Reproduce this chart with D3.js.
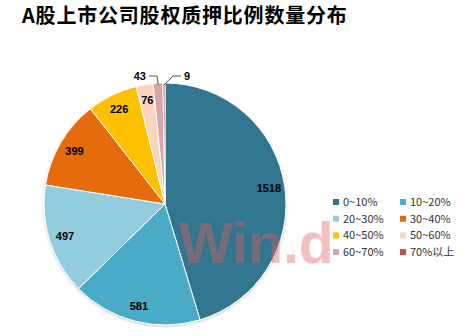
<!DOCTYPE html>
<html>
<head>
<meta charset="utf-8">
<script src="https://cdn.jsdelivr.net/npm/d3@7"></script>
<style>
  body { margin: 0; background: #fff; }
  svg { display: block; }
</style>
</head>
<body>
<div id="chart"></div>
<script>
const title = "A股上市公司股权质押比例数量分布";
const categories = ["0~10%", "10~20%", "20~30%", "30~40%", "40~50%", "50~60%", "60~70%", "70%以上"];
const counts = [1518, 581, 497, 399, 226, 76, 43, 9];
const colors = ["#31758e", "#4aabc5", "#93cddd", "#e46c0a", "#ffc000", "#fad5bd", "#d9a4ab", "#c0504d"];

const width = 476, height = 336;
const cx = 165, cy = 204, radius = 121;

const svg = d3.select("#chart")
    .append("svg")
    .attr("width", width)
    .attr("height", height);

// title
svg.append("text")
    .attr("x", 22)
    .attr("y", 23)
    .style("font-family", "'Noto Sans CJK SC', sans-serif")
    .style("font-weight", "bold")
    .style("font-size", "20px")
    .style("letter-spacing", "0.8px")
    .attr("fill", "#000")
    .text(title);

const defs = svg.append("defs");
const shadow = defs.append("filter").attr("id", "shadow")
    .attr("x", "-10%").attr("y", "-10%").attr("width", "120%").attr("height", "120%");
shadow.append("feDropShadow").attr("dx", 0).attr("dy", 1).attr("stdDeviation", 1.2)
    .attr("flood-color", "#000").attr("flood-opacity", 0.25);

const data = categories.map((c, i) => ({ cat: c, value: counts[i], color: colors[i] }));

const pie = d3.pie().sort(null).value(d => d.value);
const arcs = pie(data);
const arc = d3.arc().innerRadius(0).outerRadius(radius);
const labelArc = d3.arc().innerRadius(105).outerRadius(105);

const g = svg.append("g").attr("transform", `translate(${cx},${cy})`);

g.append("g").attr("filter", "url(#shadow)")
    .selectAll("path")
    .data(arcs)
    .join("path")
    .attr("d", arc)
    .attr("fill", d => d.data.color)
    .attr("stroke", "#fff")
    .attr("stroke-width", 1);

// inside labels
g.selectAll("text.inlabel")
    .data(arcs.filter(d => d.data.value >= 70))
    .join("text")
    .attr("class", "inlabel")
    .attr("transform", d => `translate(${labelArc.centroid(d)})`)
    .attr("text-anchor", "middle")
    .attr("dy", "0.35em")
    .style("font-family", "Arial, 'Liberation Sans', sans-serif")
    .style("font-weight", "bold")
    .style("font-size", "11px")
    .text(d => d.data.value);

// outside labels with leader lines
const small = arcs.filter(d => d.data.value < 70);
small.forEach(d => {
    const mid = (d.startAngle + d.endAngle) / 2;
    const px = Math.sin(mid) * (radius - 2), py = -Math.cos(mid) * (radius - 2);
    const side = d.data.value === 9 ? 1 : -1;
    const ex = side > 0 ? 8 : -8, ey = -130;
    const hx = ex + side * 8;
    g.append("path")
        .attr("d", `M${px},${py}L${ex},${ey + 2}L${hx},${ey + 2}`)
        .attr("fill", "none")
        .attr("stroke", "#555")
        .attr("stroke-width", 1);
    g.append("text")
        .attr("x", hx + side * 3)
        .attr("y", ey + 2)
        .attr("dy", "0.35em")
        .attr("text-anchor", side > 0 ? "start" : "end")
        .style("font-family", "Arial, 'Liberation Sans', sans-serif")
        .style("font-weight", "bold")
        .style("font-size", "11px")
        .text(d.data.value);
});

// watermark
svg.append("text")
    .attr("x", 179)
    .attr("y", 263)
    .style("font-family", "Arial, 'Liberation Sans', sans-serif")
    .style("font-weight", "bold")
    .style("font-size", "57px")
    .attr("fill", "#e06060")
    .attr("fill-opacity", 0.4)
    .text("Win.d");

// legend
const legend = svg.append("g").attr("transform", "translate(333,202)");
const item = legend.selectAll("g")
    .data(data)
    .join("g")
    .attr("transform", (d, i) => `translate(${(i % 2) * 67},${Math.floor(i / 2) * 16.7})`);
item.append("rect")
    .attr("x", 0).attr("y", -3)
    .attr("width", 6).attr("height", 6)
    .attr("fill", d => d.color);
item.append("text")
    .attr("x", 10)
    .attr("dy", "0.35em")
    .style("font-family", "'Noto Sans CJK SC', sans-serif")
    .style("font-size", "11px")
    .attr("fill", "#333")
    .text(d => d.cat);
</script>
</body>
</html>
